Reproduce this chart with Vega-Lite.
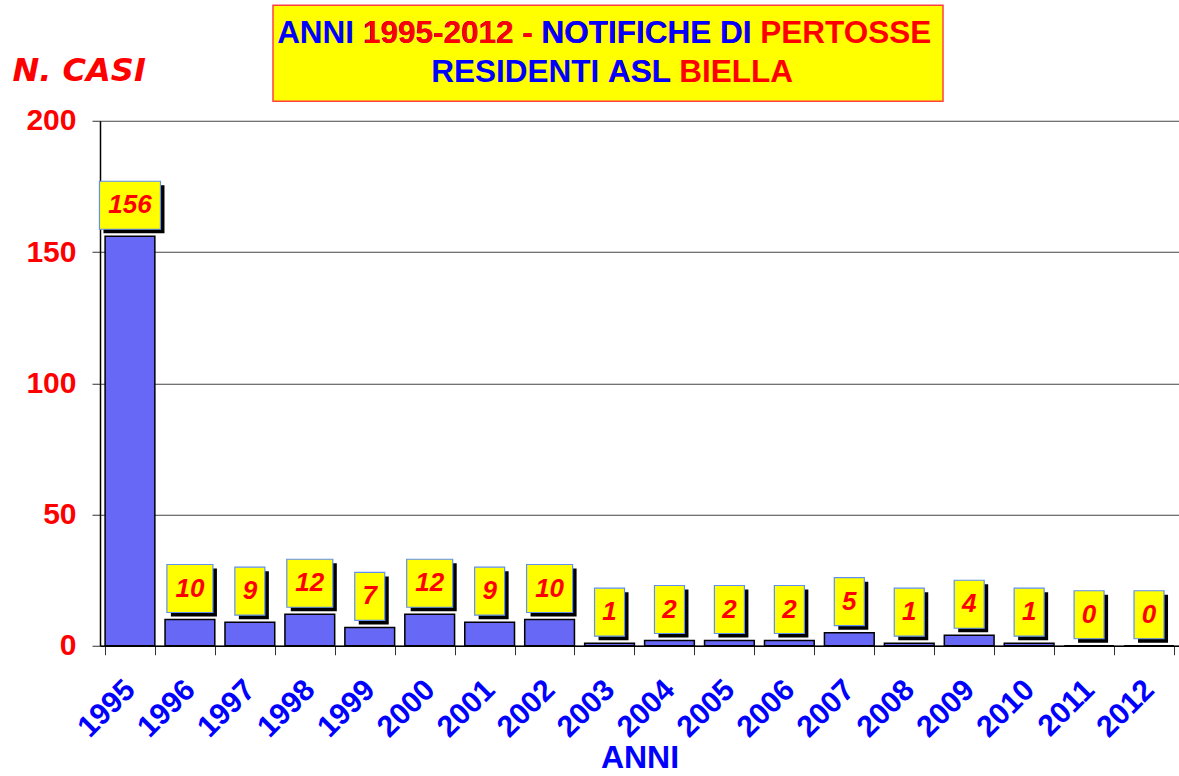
{
  "$schema": "https://vega.github.io/schema/vega-lite/v6.json",
  "autosize": {"type": "pad"},
  "padding": {"left": 12, "top": 4.25, "right": 0, "bottom": 0},
  "background": "white",
  "config": {"view": {"stroke": null}, "font": "Liberation Sans"},
  "spacing": -47.5,
  "bounds": "full",
  "vconcat": [
    {
      "spacing": 0,
      "bounds": "flush",
      "hconcat": [
        {
          "width": 173,
          "height": 96,
          "data": {"values": [{}]},
          "mark": {"type": "text", "text": ""}
        },
        {
          "width": 670,
          "height": 96,
          "view": {"fill": "#ffff00", "stroke": "#ff4040", "strokeWidth": 1.5},
          "data": {"values": [{}]},
          "layer": [
            {"mark": {"type": "text", "text": "ANNI 1995-2012 - NOT", "align": "right", "baseline": "line-bottom", "lineHeight": 39, "font": "Liberation Sans", "fontWeight": "bold", "fontSize": 31.5, "fill": "#0000ff"}},
            {"mark": {"type": "text", "text": "1995-2012 - NOT", "align": "right", "baseline": "line-bottom", "lineHeight": 39, "font": "Liberation Sans", "fontWeight": "bold", "fontSize": 31.5, "fill": "#ff0000"}},
            {"mark": {"type": "text", "text": "NOT", "align": "right", "baseline": "line-bottom", "lineHeight": 39, "font": "Liberation Sans", "fontWeight": "bold", "fontSize": 31.5, "fill": "#0000ff"}},
            {"mark": {"type": "text", "text": "IFICHE DI PERTOSSE", "align": "left", "baseline": "line-bottom", "lineHeight": 39, "font": "Liberation Sans", "fontWeight": "bold", "fontSize": 31.5, "fill": "#ff0000"}},
            {"mark": {"type": "text", "text": "IFICHE DI", "align": "left", "baseline": "line-bottom", "lineHeight": 39, "font": "Liberation Sans", "fontWeight": "bold", "fontSize": 31.5, "fill": "#0000ff"}},
            {"mark": {"type": "text", "text": "RESIDENTI \u200b", "align": "right", "baseline": "line-top", "lineHeight": 39, "font": "Liberation Sans", "fontWeight": "bold", "fontSize": 31.5, "fill": "#0000ff"}},
            {"mark": {"type": "text", "text": "ASL BIELLA", "align": "left", "baseline": "line-top", "lineHeight": 39, "font": "Liberation Sans", "fontWeight": "bold", "fontSize": 31.5, "fill": "#ff0000"}},
            {"mark": {"type": "text", "text": "ASL", "align": "left", "baseline": "line-top", "lineHeight": 39, "font": "Liberation Sans", "fontWeight": "bold", "fontSize": 31.5, "fill": "#0000ff"}}
          ]
        }
      ]
    },
    {
      "width": 1079,
      "height": 525,
      "data": {
        "values": [
          {"anno": "1995", "casi": 156},
          {"anno": "1996", "casi": 10},
          {"anno": "1997", "casi": 9},
          {"anno": "1998", "casi": 12},
          {"anno": "1999", "casi": 7},
          {"anno": "2000", "casi": 12},
          {"anno": "2001", "casi": 9},
          {"anno": "2002", "casi": 10},
          {"anno": "2003", "casi": 1},
          {"anno": "2004", "casi": 2},
          {"anno": "2005", "casi": 2},
          {"anno": "2006", "casi": 2},
          {"anno": "2007", "casi": 5},
          {"anno": "2008", "casi": 1},
          {"anno": "2009", "casi": 4},
          {"anno": "2010", "casi": 1},
          {"anno": "2011", "casi": 0},
          {"anno": "2012", "casi": 0}
        ]
      },
      "encoding": {
        "x": {
          "field": "anno",
          "type": "ordinal",
          "scale": {"paddingInner": 0.17, "paddingOuter": 0.085},
          "axis": {
            "title": "ANNI",
            "titleColor": "#0000ff",
            "titleFont": "Liberation Sans",
            "titleFontSize": 32,
            "titleFontWeight": "bold",
            "titleBaseline": "alphabetic",
            "titleY": 122,
            "labelAngle": -45,
            "labelAlign": "right",
            "labelBaseline": "middle",
            "labelColor": "#0000ff",
            "labelFont": "Liberation Sans",
            "labelFontSize": 30,
            "labelFontWeight": "bold",
            "labelPadding": 30,
            "tickBand": "extent",
            "tickSize": 9,
            "tickColor": "#333333",
            "domainColor": "#000000",
            "domainWidth": 1.5
          }
        }
      },
      "layer": [
        {
          "mark": {"type": "bar", "fill": "#6868f6", "stroke": "#000000", "strokeWidth": 1.5},
          "encoding": {
            "y": {
              "field": "casi",
              "type": "quantitative",
              "scale": {"domain": [0, 200]},
              "axis": {
                "values": [0, 50, 100, 150, 200],
                "grid": true,
                "gridColor": "#444444",
                "gridWidth": 1,
                "domainColor": "#000000",
                "domainWidth": 1.5,
                "tickColor": "#333333",
                "tickSize": 8,
                "labelColor": "#ff0000",
                "labelFont": "Liberation Sans",
                "labelFontSize": 30,
                "labelFontWeight": "bold",
                "labelPadding": 16,
                "title": "N. CASI",
                "titleAngle": 0,
                "titleAlign": "left",
                "titleBaseline": "middle",
                "titleX": -88,
                "titleY": -50,
                "titleColor": "#ff0000",
                "titleFont": "DejaVu Sans",
                "titleFontSize": 32,
                "titleFontWeight": "bold",
                "titleFontStyle": "italic"
              }
            }
          }
        },
        {
          "mark": {"type": "point", "filled": true, "fill": "#000000", "opacity": 1, "size": 3600, "xOffset": 4, "yOffset": -27},
          "encoding": {
            "y": {"field": "casi", "type": "quantitative"},
            "shape": {
              "condition": [
                {"test": "datum.casi >= 100", "value": "M-1.017,-0.8L1.017,-0.8L1.017,0.8L-1.017,0.8Z"},
                {"test": "datum.casi >= 10", "value": "M-0.767,-0.8L0.767,-0.8L0.767,0.8L-0.767,0.8Z"}
              ],
              "value": "M-0.5,-0.8L0.5,-0.8L0.5,0.8L-0.5,0.8Z"
            }
          }
        },
        {
          "mark": {"type": "point", "filled": true, "fill": "#ffff00", "stroke": "#5f8ff0", "strokeWidth": 1.2, "opacity": 1, "size": 3600, "yOffset": -31},
          "encoding": {
            "y": {"field": "casi", "type": "quantitative"},
            "shape": {
              "condition": [
                {"test": "datum.casi >= 100", "value": "M-1.017,-0.8L1.017,-0.8L1.017,0.8L-1.017,0.8Z"},
                {"test": "datum.casi >= 10", "value": "M-0.767,-0.8L0.767,-0.8L0.767,0.8L-0.767,0.8Z"}
              ],
              "value": "M-0.5,-0.8L0.5,-0.8L0.5,0.8L-0.5,0.8Z"
            }
          }
        },
        {
          "mark": {"type": "text", "fill": "#ff0000", "font": "Liberation Sans", "fontWeight": "bold", "fontStyle": "italic", "fontSize": 26, "baseline": "middle", "align": "center", "yOffset": -31},
          "encoding": {
            "y": {"field": "casi", "type": "quantitative"},
            "text": {"field": "casi", "type": "quantitative"}
          }
        }
      ]
    }
  ]
}
